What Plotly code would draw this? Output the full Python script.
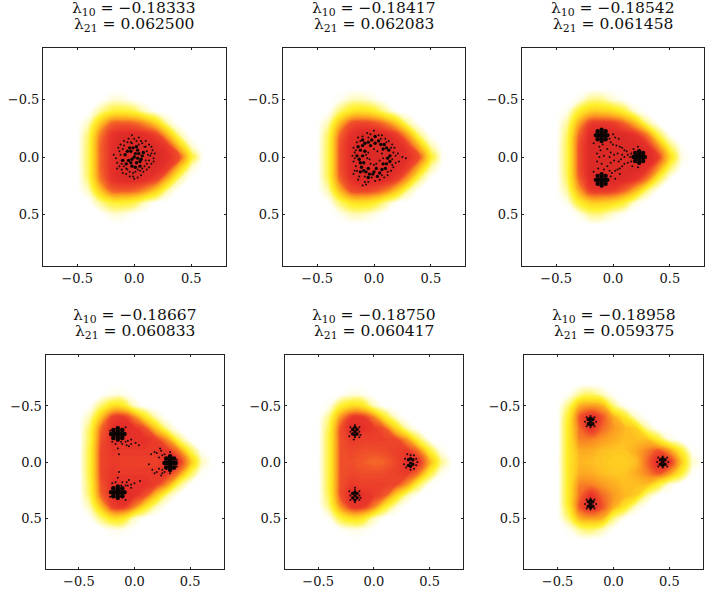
import plotly.graph_objects as go

GRID_X = [-0.6,-0.5,-0.4,-0.3,-0.2,-0.1,0.0,0.1,0.2,0.3,0.4,0.5,0.6,0.7,0.8]
GRID_Y = [-0.7,-0.6,-0.5,-0.4,-0.3,-0.2,-0.1,0.0,0.1,0.2,0.3,0.4,0.5,0.6,0.7]
Z0 = [0]*15

LAMBDA_10 = ["−0.18333","−0.18417","−0.18542","−0.18667","−0.18750","−0.18958"]
LAMBDA_21 = ["0.062500","0.062083","0.061458","0.060833","0.060417","0.059375"]
TICKS = [-0.5,0.0,0.5]
TICK_TEXT = ["−0.5","0.0","0.5"]

# upper half rows (y = -0.7 ... 0.0); lower half is the same picture mirrored
H1 = [Z0, Z0,
 [0,0,0,.1,.7,.7,.2,0,0,0,0,0,0,0,0],
 [0,0,.1,1.5,2.8,3,2.5,1,.1,0,0,0,0,0,0],
 [0,0,1,4.5,7,7.2,7,6,4,1,0,0,0,0,0],
 [0,0,2,6.5,8.3,8.8,8.8,8.5,7.8,4.8,1.2,0,0,0,0],
 [0,0,2.3,7,8.5,9,9,9,8.8,8,4.5,.8,0,0,0],
 [0,.1,2.3,7,8.5,9,9,9,9,8.5,7.5,3,.2,0,0]]
H2 = [Z0, Z0,
 [0,0,0,.4,1.1,1.1,.6,.1,0,0,0,0,0,0,0],
 [0,0,.2,2,3.5,3.8,3.2,1.6,.2,0,0,0,0,0,0],
 [0,0,1.2,5,7.5,7.8,7.5,6.5,4.5,1.3,.1,0,0,0,0],
 [0,0,2.2,7,8.5,9,9,8.8,8,5.5,1.6,.1,0,0,0],
 [0,0,2.5,7.5,8.8,9,9,9,8.8,8,5,1.2,.1,0,0],
 [0,.1,2.5,7.5,8.8,9,9,9,9,8.5,7.5,3.2,.3,0,0]]
H3 = [Z0, Z0,
 [0,0,0,.5,1.7,1.7,.8,.2,0,0,0,0,0,0,0],
 [0,0,.5,3,4.5,4.5,4,2.8,.7,0,0,0,0,0,0],
 [0,0,1.5,5.5,8,8.2,8,7,5,1.6,.1,0,0,0,0],
 [0,0,2.2,7,8.8,9,9,8.8,8.3,6.5,2.4,.2,0,0,0],
 [0,0,2.5,7.5,9,9,9,9,9,8.5,6,2,.2,0,0],
 [0,.1,2.5,7.5,9,9,9,9,9,9,8,4.2,.6,0,0]]
H4 = [Z0,
 [0,0,0,.1,.5,.5,.1,0,0,0,0,0,0,0,0],
 [0,0,.2,2,3.8,3.5,1,.1,0,0,0,0,0,0,0],
 [0,0,1.2,4.8,8,8.3,6.5,3.5,1,.1,0,0,0,0,0],
 [0,0,2.2,7,8.5,8.8,8.5,7.5,4.5,1.3,.1,0,0,0,0],
 [0,0,2.5,7.5,8.5,8.5,8.5,8.5,8,6,2,.2,0,0,0],
 [0,0,2.8,7.8,8.3,8.2,8.2,8.2,8.3,8.3,6.5,2.6,.3,0,0],
 [0,.1,2.8,7.8,8.2,8,8,8,8,8.5,8.5,5.2,1.2,.1,0]]
H5 = [Z0,
 [0,0,0,.2,.6,.5,.1,0,0,0,0,0,0,0,0],
 [0,0,.4,2.8,4,3.6,1.2,.1,0,0,0,0,0,0,0],
 [0,0,1.8,6,8.2,8.2,6.5,3.2,.8,0,0,0,0,0,0],
 [0,0,2.5,7.5,8.7,8.5,8.2,7.3,4.2,1.2,.1,0,0,0,0],
 [0,0,2.8,7.5,8.2,8,8,8,7.8,6,2.4,.3,0,0,0],
 [0,0,2.8,7.5,7.8,7.6,7.6,7.7,8,8.2,6.8,3,.5,0,0],
 [0,.1,2.8,7.5,7.6,7.3,7,7.2,7.8,8.5,8.5,5.5,1.8,.2,0]]
H6 = [Z0,
 [0,0,.4,1.7,2.2,1.2,.2,0,0,0,0,0,0,0,0],
 [0,0,2,5.5,6,5.5,1.9,.3,0,0,0,0,0,0,0],
 [0,0,3.2,7.5,8.8,7.5,5.5,3.5,.9,.1,0,0,0,0,0],
 [0,0,3.5,7,8.5,7,6,5.2,4.5,1.4,.1,0,0,0,0],
 [0,0,3.5,6.5,6.5,6,5.5,5,5,5,3,.7,0,0,0],
 [0,0,3.5,5.5,5.5,5,4.8,4.8,5.5,6.5,7.5,6,3.2,.3,0],
 [0,.1,3.5,5.2,5,4.8,4.5,4.5,5,7,8.8,8.5,5,1,.1]]
HALVES = [H1,H2,H3,H4,H5,H6]

CORE = [
 [(-.08,-.02),(-.05,.03),(-.03,-.05),(0,0),(.02,.05),(.04,-.03),(.06,.02),(-.02,.08),(.02,-.09),(-.07,.06),(.05,.08),(-.04,-.08),(.01,-.03),(.03,.01),
  (-.02,.02),(-.06,-.05),(.08,-.04),(.01,.09),(-.1,.03),(.03,-.06),(-.01,-.08),(.05,.04),(-.03,.05),(.07,-.01)],
 [(-.12,-.06),(-.13,.02),(-.11,.09),(-.08,-.12),(-.07,.13),(-.02,-.15),(-.01,.15),(.04,-.14),(.05,.14),(.09,-.11),(.1,.1),(.13,-.06),(.14,.04),(.14,-.01),(-.08,-.05),(-.09,.05),(.08,-.07),(.08,.06),(-.03,-.1),(.02,.1),(-.15,-.01),(.01,-.18),(-.05,.18),
  (-.1,-.1),(-.12,.05),(-.1,-.01),(-.05,-.13),(.01,-.12),(.06,-.11),(.11,-.08),(.11,.06),(.07,.11),(.0,.13),(-.05,.1),(-.09,.12),(-.14,-.09),(.12,.01),(-.04,.15),(.03,.17),(-.12,.13),(-.1,-.15)],
 [(.23,0),(.18,0),(.28,0),(.23,-.05),(.23,.05),(.195,-.035),(.265,-.035),(.195,.035),(.265,.035),(.205,0),(.255,0),(.23,-.025),(.23,.025),
  (-.1,-.19),(-.15,-.19),(-.05,-.19),(-.1,-.24),(-.1,-.14),(-.135,-.225),(-.065,-.225),(-.135,-.155),(-.065,-.155),(-.125,-.19),(-.075,-.19),(-.1,-.215),(-.1,-.165),
  (-.1,.2),(-.15,.2),(-.05,.2),(-.1,.15),(-.1,.25),(-.135,.165),(-.065,.165),(-.135,.235),(-.065,.235),(-.125,.2),(-.075,.2),(-.1,.175),(-.1,.225)],
 [(.32,.01),(.27,.01),(.37,.01),(.32,-.05),(.32,.07),(.285,-.03),(.355,-.03),(.285,.05),(.355,.05),(.295,.01),(.345,.01),(.32,-.02),(.32,.04),
  (-.15,-.25),(-.21,-.25),(-.09,-.25),(-.15,-.3),(-.15,-.2),(-.19,-.285),(-.11,-.285),(-.19,-.215),(-.11,-.215),(-.18,-.25),(-.12,-.25),(-.15,-.275),(-.15,-.225),
  (-.15,.27),(-.21,.27),(-.09,.27),(-.15,.22),(-.15,.32),(-.19,.235),(-.11,.235),(-.19,.305),(-.11,.305),(-.18,.27),(-.12,.27),(-.15,.245),(-.15,.295)],
 [(.33,.01),(.31,-.02),(.35,.02),(.31,.03),(.35,-.02),(.33,-.03),(.33,.04),
  (-.17,-.27),(-.19,-.29),(-.15,-.25),(-.19,-.25),(-.15,-.29),(-.17,-.31),(-.17,-.24),
  (-.17,.3),(-.19,.28),(-.15,.32),(-.19,.32),(-.15,.28),(-.17,.34),(-.17,.27)],
 [(.44,0),(.42,-.02),(.46,.02),(.42,.02),(.46,-.02),(.44,-.03),(.44,.03),
  (-.205,-.36),(-.225,-.38),(-.185,-.34),(-.225,-.34),(-.185,-.38),(-.205,-.39),(-.205,-.33),
  (-.205,.375),(-.225,.355),(-.185,.395),(-.225,.395),(-.185,.355),(-.205,.405),(-.205,.345)],
]
DUST = [
 [(-.14,-.08),(-.16,.01),(-.13,.08),(-.1,.14),(-.04,.17),(.03,.18),(.08,.13),(.13,.09),(.17,.04),(.18,-.03),(.15,-.09),(.1,-.14),(.04,-.17),(-.02,-.19),(-.09,-.14),(-.12,-.02),(-.11,.03),(.1,.03),(.11,-.05),(.09,.08),(-.01,.14),(0,.19),(.02,-.14),(.14,-.01),(-.06,.11),
  (-.13,-.05),(-.15,.05),(-.11,.11),(-.07,.15),(-.01,.17),(.06,.16),(.11,.11),(.15,.06),(.16,-.06),(.13,-.11),(.07,-.12),(-.05,-.16),(-.12,-.11),(-.09,.08),(.13,.03),(.12,-.02),(.17,.01),(-.18,-.02),(-.06,-.13),(.01,.13),(.05,.12),(-.04,.13),(.0,-.16),(.09,-.09),(-.02,-.12),(.04,-.11),
  (-.1,-.07),(-.11,.06),(.11,.06),(.1,-.09),(-.07,.1),(.03,.11),(-.03,-.13),(.06,-.14),(-.15,.1),(.15,-.03),(-.09,-.1),(.07,.1)],
 [(-.18,-.08),(-.18,.04),(-.17,.12),(-.13,.17),(-.08,.22),(-.1,-.18),(-.06,-.21),(0,-.23),(.07,-.19),(.13,-.14),(.18,-.08),(.21,-.03),(.25,0),(.22,.04),(.17,.09),(.12,.16),(.05,.2),(-.1,.25),(-.04,.02),(.03,-.05),(.05,.03),(-.03,.06),(.02,.06),(-.05,-.04),(.28,.01),
  (-.17,-.04),(-.16,.08),(-.15,-.13),(-.14,.2),(-.05,.22),(.01,.21),(.09,.18),(.15,.12),(.19,.05),(.19,-.01),(.16,-.11),(.1,-.16),(.04,-.19),(-.03,-.2),(-.14,-.17),(-.19,-.01),(.17,-.04),(.16,.02),(.07,-.03),(.08,.01),(-.06,.01),(-.07,-.02),(.0,-.07),(.0,.07),(-.18,.15),(-.07,.24),
  (-.16,-.06),(-.17,.01),(-.15,.12),(-.08,.17),(-.02,.18),(.07,.16),(.12,.13),(.16,.07),(.15,-.08),(.11,-.13),(.06,-.16),(-.05,-.17),(-.12,-.14)],
 [(-.02,-.13),(.03,-.1),(.08,-.08),(.12,-.05),(.16,-.03),(-.12,-.09),(-.14,-.03),(-.14,.04),(-.13,.1),(-.01,.14),(.04,.11),(.08,.08),(.13,.05),(.16,.04),(-.05,-.07),(-.05,.08),(-.08,-.01),(-.02,-.04),(-.02,.05),(.04,-.03),(.05,.04),(.1,0),(.13,-.02),(-.17,-.12),(0,-.2),(.05,-.16),(-.17,.13),(.02,.19),(.06,.15),(.22,-.09),(.22,.09),(-.03,.0),
  (-.03,-.16),(.0,-.11),(.06,-.09),(.1,-.06),(-.09,-.11),(-.11,-.06),(-.12,0),(-.1,.06),(-.08,.11),(-.03,.12),(.02,.12),(.06,.1),(.1,.06),(.15,0),(.08,-.02),(.07,.02),(.01,-.02),(.01,.03),(.18,-.07),(.17,.08),(-.02,.17),(.02,-.17)],
 [(.24,-.1),(.2,-.08),(.22,-.04),(.22,.06),(.2,.09),(.25,.1),(.15,-.07),(.16,.07),(.13,.02),(.27,-.07),(.27,.09),(-.06,-.19),(-.03,-.16),(-.07,-.15),(.01,-.17),(.04,-.15),(-.17,-.16),(-.15,-.12),(-.14,-.07),(-.12,-.18),(-.06,.21),(-.03,.2),(-.07,.18),(.0,.19),(.05,.17),(-.17,.18),(-.15,.14),(-.14,.09),(-.12,.21),
  (.25,-.06),(.25,.07),(.23,-.12),(.24,.12),(.18,-.09),(.18,.1),(.38,-.02),(.38,.04),(.32,-.09),(.32,.1),(-.08,-.18),(-.05,-.14),(-.11,-.16),(-.2,-.18),(-.08,-.31),(-.22,-.28),(-.03,-.2),(-.08,.21),(-.05,.16),(-.11,.18),(-.2,.19),(-.08,.34),(-.22,.31),(-.03,.23)],
 [(.28,-.03),(.27,.02),(.29,.05),(.33,-.06),(.33,.07),(.38,-.03),(.38,.03),(.3,-.07),(.36,.06),(.39,0),(.36,-.06),
  (-.21,-.27),(-.13,-.27),(-.17,-.33),(-.17,-.22),(-.21,-.31),(-.13,-.31),(-.22,-.23),(-.13,-.22),(-.18,-.2),(-.12,-.24),
  (-.21,.3),(-.13,.3),(-.17,.36),(-.17,.25),(-.21,.34),(-.13,.34),(-.22,.26),(-.13,.26),(-.17,.23),(-.12,.32)],
 [(.39,0),(.49,0),(.44,-.05),(.44,.05),(.4,-.04),(.48,.04),(.4,.04),(.48,-.04),
  (-.255,-.36),(-.155,-.36),(-.205,-.41),(-.205,-.31),(-.24,-.4),(-.17,-.32),(-.24,-.32),(-.17,-.4),
  (-.255,.375),(-.155,.375),(-.205,.425),(-.205,.325),(-.24,.415),(-.17,.335),(-.24,.335),(-.17,.415)],
]
CORE_SIZE = [3.4,3.4,4.4,4.6,3.4,3.6]

# panel boxes in page pixels: left, right, top, bottom
BOXES = [(43,225.5,48,266),(283,465,48,266),(522,704,48,266),
         (45.5,223.5,355,569),(284.7,463,355,569),(524,703,355,569)]

W, H = 708, 593
COLORS = [[0,"#ffffff"],[.03,"#fffef2"],[.1,"#fffbc0"],[.2,"#fff56a"],[.3,"#fff02a"],
          [.45,"#ffcf22"],[.6,"#fb9a22"],[.75,"#f0502a"],[.85,"#e6302a"],[1,"#c41e1e"]]
FONT = "DejaVu Serif"

fig = go.Figure()
ann = []
for i, box in enumerate(BOXES):
    n = "" if i == 0 else str(i+1)
    half = HALVES[i]
    z = half + half[-2::-1]
    fig.add_trace(go.Contour(x=GRID_X, y=GRID_Y, z=z, zmin=0, zmax=10, colorscale=COLORS,
                             autocontour=False, contours=dict(coloring="fill", start=0.15, end=9.9, size=0.15, showlines=False),
                             line=dict(width=0, smoothing=1.3), showscale=False, xaxis="x"+n, yaxis="y"+n))
    fig.add_trace(go.Scatter(x=[p[0] for p in DUST[i]], y=[p[1] for p in DUST[i]], mode="markers",
                             marker=dict(color="#1a0a0a", size=2), xaxis="x"+n, yaxis="y"+n, showlegend=False))
    fig.add_trace(go.Scatter(x=[p[0] for p in CORE[i]], y=[p[1] for p in CORE[i]], mode="markers",
                             marker=dict(color="#0a0505", size=CORE_SIZE[i]), xaxis="x"+n, yaxis="y"+n, showlegend=False))
    l, r, t, b = box
    common = dict(showline=True, linecolor="#222222", linewidth=1, mirror="ticks", ticks="inside",
                  ticklen=2, tickcolor="#222222", showgrid=False, zeroline=False,
                  tickvals=TICKS, ticktext=TICK_TEXT, tickfont=dict(family=FONT, size=13, color="#111111"))
    fig.update_layout({
        "xaxis"+n: dict(domain=[l/W, r/W], range=[-0.8,0.8], anchor="y"+n, **common),
        "yaxis"+n: dict(domain=[1-b/H, 1-t/H], range=[0.955,-0.955], anchor="x"+n, **common),
    })
    cx = (l+r)/2/W
    ann.append(dict(xref="paper", yref="paper", x=cx, y=1-(t-39)/H, showarrow=False, xanchor="center", yanchor="middle",
                    text="λ<sub>10</sub> = "+LAMBDA_10[i], font=dict(family=FONT, size=15.5, color="#111111")))
    ann.append(dict(xref="paper", yref="paper", x=cx, y=1-(t-23)/H, showarrow=False, xanchor="center", yanchor="middle",
                    text="λ<sub>21</sub> = "+LAMBDA_21[i], font=dict(family=FONT, size=15.5, color="#111111")))
fig.update_layout(width=W, height=H, margin=dict(l=0,r=0,t=0,b=0), paper_bgcolor="white",
                  plot_bgcolor="white", showlegend=False, annotations=ann)
fig.write_html("out.html", config={"displayModeBar": False}, post_script="document.body.style.margin='0';")
